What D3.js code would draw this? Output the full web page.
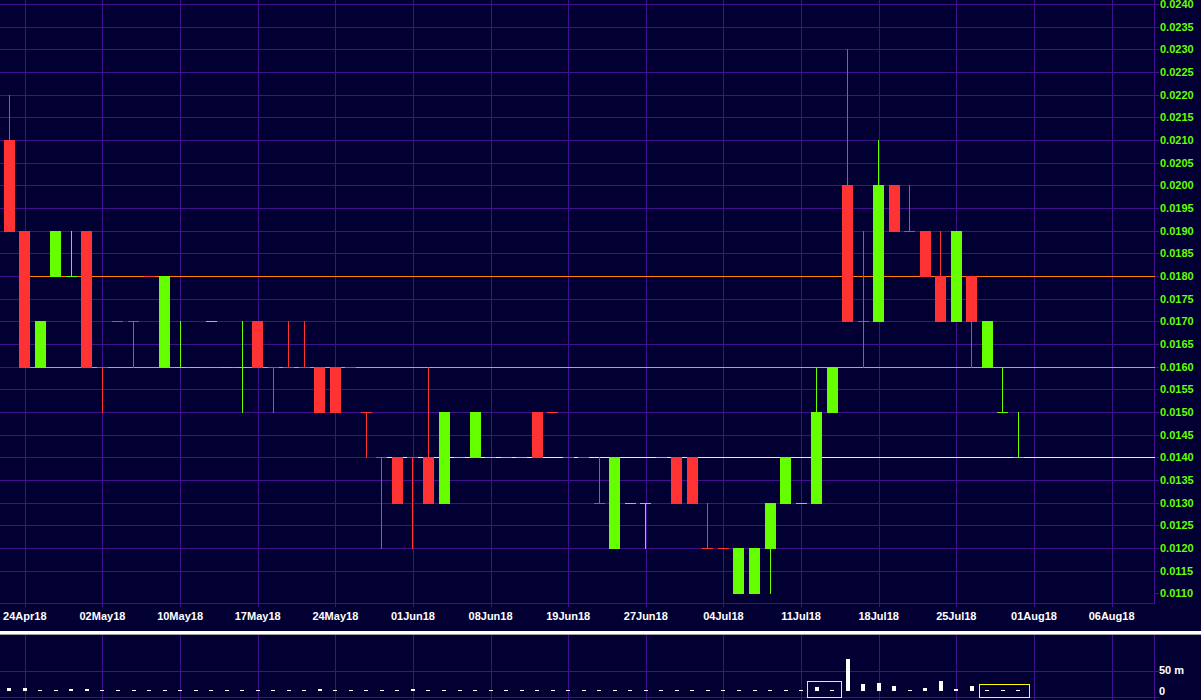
<!DOCTYPE html>
<html><head><meta charset="utf-8">
<script src="https://cdn.jsdelivr.net/npm/d3@7"></script>
<style>html,body{margin:0;padding:0;background:#020032;overflow:hidden}</style>
</head><body>
<svg id="c" width="1201" height="700"></svg>
<script>
// ---- data ----
const tickLabels = ["24Apr18","02May18","10May18","17May18","24May18","01Jun18","08Jun18","19Jun18","27Jun18","04Jul18","11Jul18","18Jul18","25Jul18","01Aug18","06Aug18"];
const tickIndex  = [1,6,11,16,21,26,31,36,41,46,51,56,61,66,71];
const open  = [.021,.019,.016,.018,.018,.019,.016,.017,.017,.018, .016,.016,.016,.017,.016,.016,.017,.016,.016,.016, .016,.016,.016,.015,.014,.014,.014,.014,.013,.014, .014,.014,.014,.014,.015,.015,.014,.014,.013,.012, .013,.013,.014,.014,.014,.012,.012,.011,.011,.012, .013,.013,.013,.015,.020,.017,.017,.020,.019,.019, .018,.017,.018,.016,.015,.014];
const high  = [.022,.019,.017,.019,.019,.019,.016,.017,.017,.018, .018,.017,.016,.017,.016,.017,.017,.016,.017,.017, .016,.016,.016,.015,.014,.014,.014,.016,.015,.014, .015,.014,.014,.014,.015,.015,.014,.014,.014,.014, .013,.013,.014,.014,.014,.013,.012,.012,.012,.013, .014,.013,.016,.016,.023,.019,.021,.020,.020,.019, .019,.019,.018,.017,.016,.015];
const low   = [.019,.016,.016,.018,.018,.016,.015,.017,.016,.018, .016,.016,.016,.017,.016,.015,.016,.015,.016,.016, .015,.015,.016,.014,.012,.013,.012,.013,.013,.014, .014,.014,.014,.014,.014,.015,.014,.014,.013,.012, .013,.012,.014,.013,.013,.012,.012,.011,.011,.011, .013,.013,.013,.015,.017,.016,.017,.019,.019,.018, .017,.017,.016,.016,.015,.014];
const close = [.019,.016,.017,.019,.018,.016,.016,.017,.017,.018, .018,.016,.016,.017,.016,.016,.016,.016,.016,.016, .015,.015,.016,.015,.014,.013,.014,.013,.015,.014, .015,.014,.014,.014,.014,.015,.014,.014,.013,.014, .013,.013,.014,.013,.013,.012,.012,.012,.012,.013, .014,.013,.015,.016,.017,.017,.020,.019,.019,.018, .017,.019,.017,.017,.015,.014];
const direction = ["R","R","G","G","G","R","R","R","R","R", "G","G","G","G","G","G","R","R","R","R", "R","R","R","R","R","R","R","R","G","G", "G","G","G","G","R","R","R","R","R","G", "G","G","G","R","R","R","R","G","G","G", "G","G","G","G","R","R","G","R","R","R", "R","G","R","G","G","G"];
const volume = [8,8,3,3,5,5,3,3,3,3, 3,3,3,3,3,3,3,3,3,3, 5,3,3,3,3,3,5,3,3,3, 3,3,3,3,3,3,3,3,3,3, 3,3,3,3,3,3,3,3,3,3, 3,3,10,3,77,18,20,12,3,7, 24,5,12,2.5,2.5,2.5];
const priceTicks = [0.0110,0.0115,0.0120,0.0125,0.0130,0.0135,0.0140,0.0145,0.0150,0.0155,0.0160,0.0165,0.0170,0.0175,0.0180,0.0185,0.0190,0.0195,0.0200,0.0205,0.0210,0.0215,0.0220,0.0225,0.0230,0.0235,0.0240];
const refLevels = [0.018, 0.016, 0.014];
const refStart  = [1, 1, 24];
const refColors = ["#ff8000", "#ff9428", "#ffff3a"];
const volTicks  = [0, 50];
const volTickLabels = ["0", "50 m"];
const boxStart = [51.4, 62.48];
const boxEnd   = [53.55, 65.66];
const boxTop   = [24, 17];

// ---- layout ----
const W = 1201, axisX = 1154.5;
const BG = "#020032", GRID = "#42108c", RED = "#ff3333", GREEN = "#66ff00";
const svg = d3.select("#c");
svg.append("rect").attr("width", W).attr("height", 700).attr("fill", BG);

const x = d3.scaleLinear().domain([0, 66]).range([9.3, 1033.95]);
const y = d3.scaleLinear().domain([0.011, 0.024]).range([593.4, 4]);
const yv = d3.scaleLinear().domain([0, 50]).range([691, 670.5]);

const g = svg.append("g").attr("shape-rendering", "crispEdges");
const px = v => Math.round(v) + 0.5;

// horizontal grid (main)
priceTicks.forEach(t => {
  const yy = px(y(t));
  const x0 = (t > 0.01101) ? 0 : axisX;
  g.append("line").attr("x1", x0).attr("x2", axisX + 4.5).attr("y1", yy).attr("y2", yy)
    .attr("stroke", GRID).attr("stroke-width", 1);
});
// vertical grid (main + volume)
tickIndex.forEach(i => {
  const xx = px(x(i));
  g.append("line").attr("x1", xx).attr("x2", xx).attr("y1", 0).attr("y2", 607).attr("stroke", GRID);
  g.append("line").attr("x1", xx).attr("x2", xx).attr("y1", 635).attr("y2", 700).attr("stroke", GRID);
});
// border / axis
g.append("line").attr("x1", 0).attr("x2", axisX).attr("y1", 603.5).attr("y2", 603.5).attr("stroke", GRID);
g.append("line").attr("x1", axisX).attr("x2", axisX).attr("y1", 0).attr("y2", 603.5).attr("stroke", GRID);
g.append("line").attr("x1", axisX).attr("x2", axisX).attr("y1", 635).attr("y2", 700).attr("stroke", GRID);

// reference lines
refLevels.forEach((lv, k) => {
  const yy = px(y(lv));
  g.append("line").attr("x1", Math.round(x(refStart[k]))).attr("x2", axisX).attr("y1", yy).attr("y2", yy)
    .attr("stroke", refColors[k]).attr("stroke-width", 1);
});

// candles
const n = open.length;
for (let i = 0; i < n; i++) {
  const c = direction[i] === "G" ? GREEN : RED;
  const cx = x(i);
  const xl = Math.round(cx - 5.5);
  const wx = Math.floor(cx) + 0.5;
  const top = Math.max(open[i], close[i]), bot = Math.min(open[i], close[i]);
  if (high[i] > top + 1e-9 || low[i] < bot - 1e-9) {
    g.append("line").attr("x1", wx).attr("x2", wx)
      .attr("y1", Math.round(y(high[i]))).attr("y2", Math.round(y(low[i])) + 1)
      .attr("stroke", c).attr("stroke-width", 1);
  }
  if (top - bot > 1e-9) {
    const y0 = Math.round(y(top)), y1 = Math.round(y(bot));
    g.append("rect").attr("x", xl).attr("y", y0).attr("width", 11).attr("height", y1 - y0 + 1).attr("fill", c);
  } else {
    const yy = Math.round(y(open[i])) + 0.5;
    g.append("line").attr("x1", xl).attr("x2", xl + 11).attr("y1", yy).attr("y2", yy)
      .attr("stroke", c).attr("stroke-width", 1);
  }
}

// y labels
const fnt = "'Liberation Sans', Arial, sans-serif";
priceTicks.forEach(t => {
  svg.append("text").attr("x", 1160).attr("y", y(t)).attr("dy", "0.36em")
    .attr("fill", GREEN).attr("font-family", fnt).attr("font-weight", "bold").attr("font-size", 11)
    .text(t.toFixed(4));
});
// x labels
tickIndex.forEach((i, k) => {
  svg.append("text").attr("x", x(i)).attr("y", 619.5).attr("text-anchor", "middle")
    .attr("fill", "#ffffff").attr("font-family", fnt).attr("font-weight", "bold").attr("font-size", 11)
    .text(tickLabels[k]);
});

// separator
g.append("rect").attr("x", 0).attr("y", 631).attr("width", W).attr("height", 3).attr("fill", "#ffffff");
g.append("rect").attr("x", 0).attr("y", 634).attr("width", W).attr("height", 1).attr("fill", "#a0a0a0");

// volume grid
g.append("line").attr("x1", 0).attr("x2", axisX + 4.5).attr("y1", px(yv(50))).attr("y2", px(yv(50))).attr("stroke", GRID);
g.append("line").attr("x1", 0).attr("x2", axisX + 4.5).attr("y1", px(yv(-15))).attr("y2", px(yv(-15))).attr("stroke", GRID);

// volume bars
for (let i = 0; i < n; i++) {
  const cx = x(i);
  const h = Math.max(1, Math.round(yv(0) - yv(volume[i])));
  g.append("rect").attr("x", Math.round(cx - 2)).attr("y", Math.round(yv(0)) - h)
    .attr("width", 4).attr("height", h).attr("fill", "#ffffff");
}
// highlight boxes
boxStart.forEach((s, k) => {
  const x0 = Math.round(x(s)) + 0.5, x1 = Math.round(x(boxEnd[k])) + 0.5;
  const y0 = Math.round(yv(boxTop[k])) + 0.5, y1 = Math.round(yv(-14)) + 0.5;
  g.append("rect").attr("x", x0).attr("y", y0).attr("width", x1 - x0).attr("height", y1 - y0)
    .attr("fill", "none").attr("stroke", "#ffff00").attr("stroke-width", 1);
});
// volume labels
volTicks.forEach((t, k) => {
  svg.append("text").attr("x", 1159).attr("y", yv(t)).attr("dy", "0.36em")
    .attr("fill", "#ffffff").attr("font-family", fnt).attr("font-weight", "bold").attr("font-size", 11)
    .text(volTickLabels[k]);
});
</script>
</body></html>
